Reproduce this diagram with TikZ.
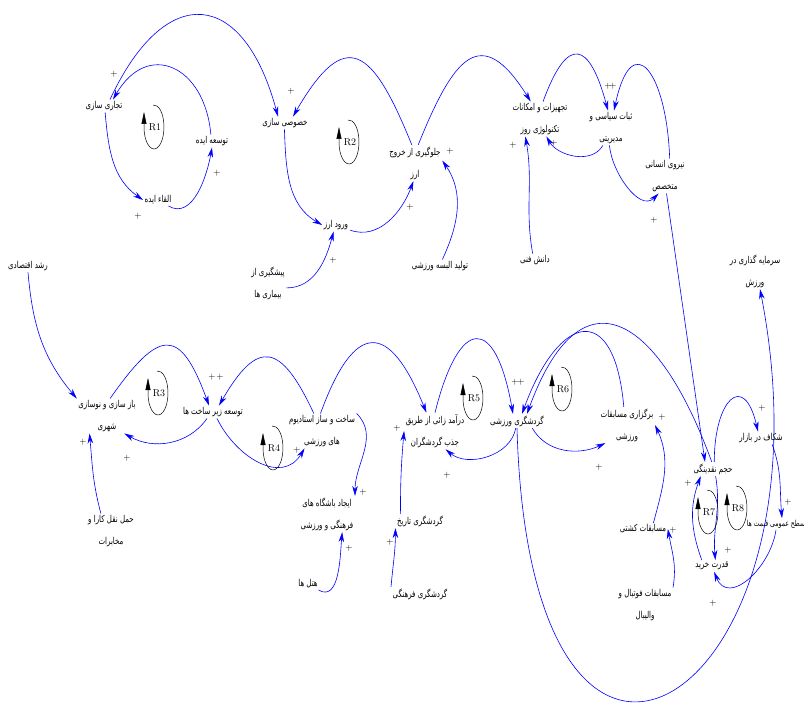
\documentclass[tikz,border=0pt]{standalone}
\usepackage{fontspec}
\usetikzlibrary{arrows.meta}
\TeXXeTstate=1
\newfontfamily\persfont[Script=Arabic,FakeStretch=0.74]{DejaVu Sans}
\newcommand\pers[1]{\beginR #1\endR}

\begin{document}
\begin{tikzpicture}[x=1pt,y=1pt,
    var/.style={font=\persfont\fontsize{9.5}{22}\selectfont, align=center, inner sep=1.5pt},
    link/.style={blue, line width=0.6pt, -{Stealth[length=10pt,width=5.5pt]}},
    plus/.style={font=\fontsize{9}{9}\selectfont, inner sep=0pt},
    loopmark/.style={black, line width=0.5pt, -{Triangle[length=12pt,width=5pt]}}
]
    % Definitions
    \useasboundingbox (0,0) rectangle (804,-706);
    \coordinate (bigarcA) at (530,-900);
    \coordinate (bigarcB) at (840,-700);
    %%%
    %%% Variables, upper part
    %%%
    \node[var] (tejari)   at (104,-106) {\pers{تجاری سازی}};
    \node[var] (tose)     at (212,-141) {\pers{توسعه ایده}};
    \node[var] (elqa)     at (158,-200) {\pers{القاء ایده}};
    \node[var] (khosusi)  at (285,-123) {\pers{خصوصی سازی}};
    \node[var] (vorud)    at (336,-225) {\pers{ورود ارز}};
    \node[var] (pishgiri) at (268,-283) {\pers{پیشگیری از}\\\pers{بیماری ها}};
    \node[var] (jelogiri) at (415,-163) {\pers{جلوگیری از خروج}\\\pers{ارز}};
    \node[var] (tolid)    at (440,-266) {\pers{تولید البسه ورزشی}};
    \node[var] (tajhizat) at (540,-119) {\pers{تجهیزات و امکانات}\\\pers{تکنولوژی روز}};
    \node[var] (sobat)    at (611,-128) {\pers{ثبات سیاسی و}\\\pers{مدیریتی}};
    \node[var] (niru)     at (665,-176) {\pers{نیروی انسانی}\\\pers{متخصص}};
    \node[var] (danesh)   at (535,-260) {\pers{دانش فنی}};
    \node[var] (sarmaye)  at (755,-271) {\pers{سرمایه گذاری در}\\\pers{ورزش}};
    %%%
    %%% Variables, lower part
    %%%
    \node[var] (roshd)     at (28,-266)  {\pers{رشد اقتصادی}};
    \node[var] (bazsazi)   at (107,-416) {\pers{باز سازی و نوسازی}\\\pers{شهری}};
    \node[var] (zirsakht)  at (213,-412) {\pers{توسعه زیر ساخت ها}};
    \node[var] (stadium)   at (322,-431) {\pers{ساخت و ساز استادیوم}\\\pers{های ورزشی}};
    \node[var] (bashgah)   at (327,-514) {\pers{ایجاد باشگاه های}\\\pers{فرهنگی و ورزشی}};
    \node[var] (hotel)     at (308,-584) {\pers{هتل ها}};
    \node[var] (haml)      at (111,-531) {\pers{حمل نقل کارا و}\\\pers{مخابرات}};
    \node[var] (daramad)   at (435,-431) {\pers{درآمد زائی از طریق}\\\pers{جذب گردشگران}};
    \node[var] (tarikh)    at (420,-521) {\pers{گردشگری تاریخ}};
    \node[var] (farhangi)  at (420,-594) {\pers{گردشگری فرهنگی}};
    \node[var] (gsport)    at (517,-421) {\pers{گردشگری ورزشی}};
    \node[var] (bargozari) at (627,-425) {\pers{برگزاری مسابقات}\\\pers{ورزشی}};
    \node[var] (koshti)    at (643,-529) {\pers{مسابقات کشتی}};
    \node[var] (futbal)    at (645,-605) {\pers{مسابقات فوتبال و}\\\pers{والیبال}};
    \node[var] (hajm)      at (713,-469) {\pers{حجم نقدینگی}};
    \node[var] (shekaf)    at (761,-438) {\pers{شکاف در بازار}};
    \node[var, font=\persfont\fontsize{8.3}{20}\selectfont] (sath) at (776,-524) {\pers{سطح عمومی قیمت ها}};
    \node[var] (qodrat)    at (712,-566) {\pers{قدرت خرید}};
    %%%
    %%% Links, upper part
    %%%
    \draw[link] (tejari.-80) to[out=-85,in=145] (elqa.west);
    \draw[link] (elqa.-30) to[out=-30,in=-100] (tose.south);
    \draw[link] (tose.100) to[out=95,in=60,looseness=1.7] ([xshift=9]tejari.north);
    \draw[link] ([xshift=6]tejari.north) to[out=65,in=105,looseness=2] ([xshift=-7]khosusi.north);
    \draw[link] (khosusi.-95) to[out=-88,in=150] (vorud.west);
    \draw[link] (vorud.-20) to[out=-20,in=-110] (jelogiri.-95);
    \draw[link] (pishgiri.-15) to[out=0,in=-105] (vorud.-110);
    \draw[link] (jelogiri.100) to[out=112,in=60,looseness=2.2] ([xshift=8]khosusi.north);
    \draw[link] (tolid.70) to[out=65,in=-55] (jelogiri.5);
    \draw[link] (jelogiri.80) to[out=68,in=122,looseness=2] (tajhizat.118);
    \draw[link] (tajhizat.80) to[out=70,in=105,looseness=2.8] ([xshift=-3]sobat.north);
    \draw[link] (niru.75) to[out=92,in=78,looseness=3] ([xshift=3]sobat.north);
    \draw[link] (sobat.-115) to[out=-120,in=-60] (tajhizat.-70);
    \draw[link] (sobat.-95) to[out=-85,in=-135] (niru.-110);
    \draw[link] (danesh.110) to[out=100,in=-80] (tajhizat.-130);
    \draw[link] (niru.-85) -- ([xshift=-8]hajm.north);
    %%%
    %%% Links, lower part
    %%%
    \draw[link] (roshd.south) to[out=-85,in=130] (bazsazi.north west);
    \draw[link] (bazsazi.80) to[out=55,in=110,looseness=2.2] ([xshift=-4]zirsakht.north);
    \draw[link] (stadium.115) to[out=115,in=60,looseness=2.1] ([xshift=6]zirsakht.north);
    \draw[link] ([xshift=-6]zirsakht.south) to[out=-125,in=-30] (bazsazi.-45);
    \draw[link] ([xshift=4]zirsakht.south) to[out=-64,in=-121,looseness=1.2] (stadium.-135);
    \draw[link] (haml.120) to[out=105,in=-85] (bazsazi.-135);
    \draw[link] (stadium.north east) to[out=-45,in=90] (bashgah.north east);
    \draw[link] (hotel.-30) to[out=-30,in=-95] (bashgah.-50);
    \draw[link] (stadium.95) to[out=70,in=112,looseness=2.4] (daramad.115);
    \draw[link] (tarikh.160) to[out=90,in=-95] (daramad.west);
    \draw[link] (farhangi.north west) to[out=85,in=-90] (tarikh.south west);
    \draw[link] (daramad.90) to[out=76,in=100,looseness=3.3] ([xshift=-4]gsport.north);
    \draw[link] (gsport.-100) to[out=-100,in=-40] (daramad.-60);
    \draw[link] (gsport.-25) to[out=-60,in=-155] (bargozari.-140);
    \draw[link] (bargozari.100) to[out=95,in=70,looseness=2.7] ([xshift=5]gsport.north);
    \draw[link] (hajm.100) to[out=110,in=70,looseness=2.1] ([xshift=10]gsport.north);
    \draw[link] (gsport.south) .. controls (bigarcA) and (bigarcB) .. ([xshift=5]sarmaye.south);
    \draw[link] (koshti.30) to[out=75,in=-65] (bargozari.east);
    \draw[link] (futbal.north east) to[out=80,in=-80] (koshti.east);
    \draw[link] (hajm.80) to[out=90,in=103,looseness=3] ([xshift=-3]shekaf.north);
    \draw[link] (shekaf.-30) to[out=-70,in=95] ([xshift=6]sath.north);
    \draw[link] (sath.south) to[out=-98,in=-68,looseness=1.3] (qodrat.-70);
    \draw[link] (qodrat.150) to[out=110,in=-110] (hajm.-150);
    \draw[link] (hajm.-70) to[out=-80,in=95] (qodrat.60);
    %%%
    %%% Polarity signs
    %%%
    \foreach \px/\py [count=\i] in {114/74, 217/173, 138/216, 291/91, 410/207, 333/260, 450/151,
        513/145, 554/143, 608/86, 613/86, 654/220, 212/377, 220/377, 127/458, 83/442,
        297/450, 363/492, 349/548, 397/428, 447/475, 390/542, 515/382, 521/382,
        599/467, 662/417, 673/530, 762/408, 788/502, 713/603, 688/483, 728/550}
    {
        \node[plus] (plus\i) at (\px,-\py) {+};
    }
    %%%
    %%% Loop identifiers
    %%%
    \foreach \lx/\ly/\lname in {154/127/R1, 349/142/R2, 158/393/R3, 273/448/R4,
        473/398/R5, 562/389/R6, 708/512/R7, 737/508/R8}
    {
        \draw[loopmark] (\lx,-\ly) ++(95:10 and 22) arc[start angle=95, end angle=-180, x radius=10, y radius=22] -- ++(0,15);
        \node (\lname) at (\lx+1,-\ly) {\lname};
    }
\end{tikzpicture}
\end{document}
